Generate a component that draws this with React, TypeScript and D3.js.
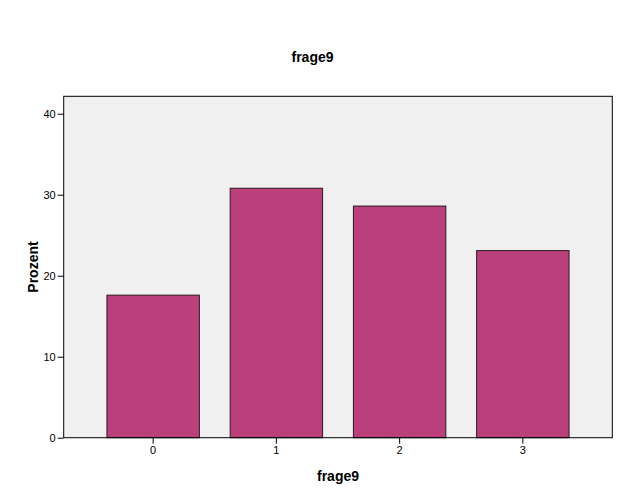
import { useEffect, useRef } from "react"
import * as d3 from "d3"

const categories = ["0", "1", "2", "3"]
const percentValues = [17.6, 30.8, 28.6, 23.1]
const yTicks = [0, 10, 20, 30, 40]
const chartTitle = "frage9"
const xAxisTitle = "frage9"
const yAxisTitle = "Prozent"

export default function App() {
  const svgRef = useRef<SVGSVGElement>(null)

  useEffect(() => {
    if (!svgRef.current) return
    const svg = d3.select(svgRef.current)
    svg.selectAll("*").remove()

    const width = 625
    const height = 500
    const plot = { left: 63.7, right: 612.3, top: 96.3, bottom: 437.7 }
    const font = "Arial, 'Liberation Sans', sans-serif"

    svg.append("rect").attr("width", width).attr("height", height).attr("fill", "#fff")

    const x = d3
      .scaleBand()
      .domain(categories)
      .range([plot.left, plot.right])
      .paddingInner(0.25)
      .paddingOuter(0.351)

    const y = d3.scaleLinear().domain([0, 42.15]).range([plot.bottom, plot.top])

    // Plot background
    svg
      .append("rect")
      .attr("x", plot.left)
      .attr("y", plot.top)
      .attr("width", plot.right - plot.left)
      .attr("height", plot.bottom - plot.top)
      .attr("fill", "#f0f0f0")

    // Bars
    svg
      .selectAll(".bar")
      .data(percentValues)
      .enter()
      .append("rect")
      .attr("class", "bar")
      .attr("x", (_, i) => x(categories[i]) || 0)
      .attr("y", (d) => y(d))
      .attr("width", x.bandwidth())
      .attr("height", (d) => y(0) - y(d))
      .attr("fill", "#bb3f7b")
      .attr("stroke", "#2a1a22")
      .attr("stroke-width", 1)

    // Frame
    svg
      .append("rect")
      .attr("x", plot.left)
      .attr("y", plot.top)
      .attr("width", plot.right - plot.left)
      .attr("height", plot.bottom - plot.top)
      .attr("fill", "none")
      .attr("stroke", "#000")
      .attr("stroke-width", 1)

    // Y axis
    const yAxis = svg
      .append("g")
      .attr("transform", `translate(${plot.left},0)`)
      .call(d3.axisLeft(y).tickValues(yTicks).tickSize(6).tickPadding(2))
    yAxis.select(".domain").remove()
    yAxis.selectAll("line").attr("stroke", "#000")
    yAxis
      .selectAll("text")
      .attr("fill", "#000")
      .attr("font-family", font)
      .attr("font-size", "11px")

    // X axis
    const xAxis = svg
      .append("g")
      .attr("transform", `translate(0,${plot.bottom})`)
      .call(d3.axisBottom(x).tickSize(6).tickPadding(3))
    xAxis.select(".domain").remove()
    xAxis.selectAll("line").attr("stroke", "#000")
    xAxis
      .selectAll("text")
      .attr("fill", "#000")
      .attr("font-family", font)
      .attr("font-size", "11px")

    // Titles
    svg
      .append("text")
      .attr("x", width / 2)
      .attr("y", 62)
      .attr("text-anchor", "middle")
      .attr("font-family", font)
      .attr("font-weight", "bold")
      .attr("font-size", "14px")
      .text(chartTitle)

    svg
      .append("text")
      .attr("x", (plot.left + plot.right) / 2)
      .attr("y", 481)
      .attr("text-anchor", "middle")
      .attr("font-family", font)
      .attr("font-weight", "bold")
      .attr("font-size", "14px")
      .text(xAxisTitle)

    svg
      .append("text")
      .attr("transform", `translate(38,${(plot.top + plot.bottom) / 2}) rotate(-90)`)
      .attr("text-anchor", "middle")
      .attr("font-family", font)
      .attr("font-weight", "bold")
      .attr("font-size", "14px")
      .text(yAxisTitle)
  }, [])

  return (
    <svg
      ref={svgRef}
      width={625}
      height={500}
      style={{ position: "absolute", left: 0, top: 0 }}
    />
  )
}
